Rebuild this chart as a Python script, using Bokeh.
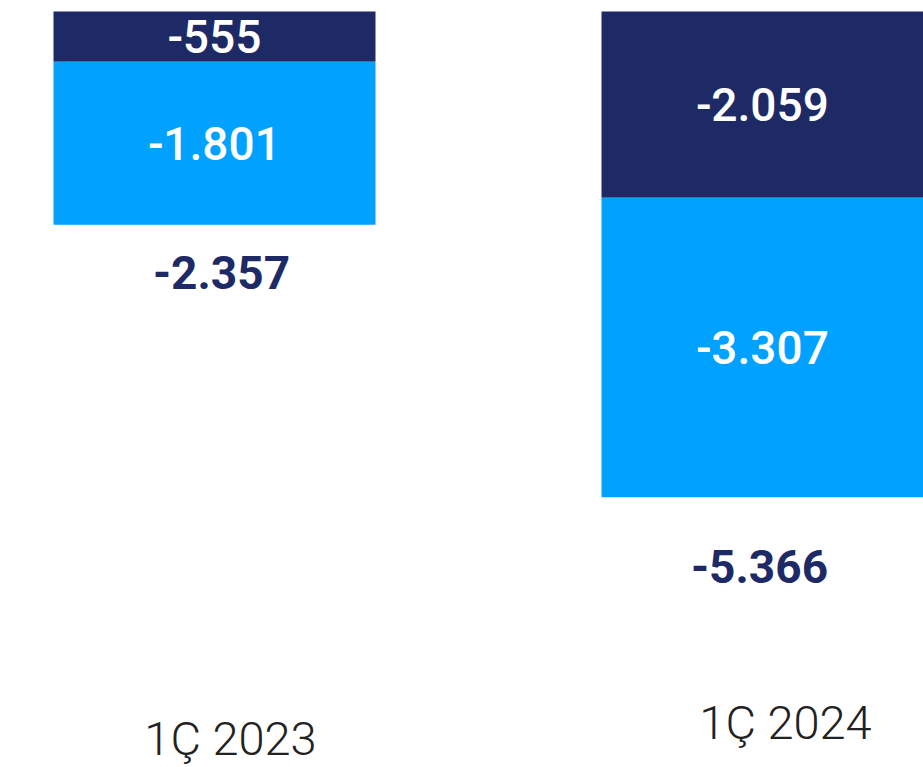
from bokeh.plotting import figure
from bokeh.models import ColumnDataSource, Range1d
from bokeh.core.properties import value
from bokeh.embed import file_html
from bokeh.resources import INLINE

# ---- data ----
categories = ["1Ç 2023", "1Ç 2024"]
dark_values = [-555, -2059]
light_values = [-1801, -3307]
totals = [-2357, -5366]

def fmt(v):
    s = f"{abs(v):,}".replace(",", ".")
    return "-" + s if v < 0 else s

DARK = "#1e2a66"
LIGHT = "#00a1ff"

W, H = 923, 767
scale = 0.09051  # px per unit
zero_px = 11
y_end = zero_px / scale
y_start = y_end - H / scale
x_unit = 548.0
x_start = -214.0 / x_unit
x_end = x_start + W / x_unit

p = figure(width=W, height=H, output_backend="svg", toolbar_location=None,
           x_range=Range1d(x_start, x_end), y_range=Range1d(y_start, y_end),
           min_border=0, min_border_left=0, min_border_right=0,
           min_border_top=0, min_border_bottom=0)
p.axis.visible = False
p.grid.visible = False
p.outline_line_color = None
p.background_fill_color = "white"
p.border_fill_color = "white"

xs = list(range(len(categories)))
light_bottom = [d + l for d, l in zip(dark_values, light_values)]

src = ColumnDataSource(dict(
    x=xs, cat=categories,
    d_top=[0 for _ in dark_values], d_bot=dark_values,
    l_top=dark_values, l_bot=light_bottom,
    d_mid=[v / 2 for v in dark_values],
    l_mid=[d + l / 2 for d, l in zip(dark_values, light_values)],
    d_lbl=[fmt(v) for v in dark_values],
    l_lbl=[fmt(v) for v in light_values],
    tot=totals, t_lbl=[fmt(v) for v in totals],
    t_yoff=[48, 69],
    t_xoff=[7, -3],
))

bw = 322 / x_unit
p.vbar(x="x", top="d_top", bottom="d_bot", width=bw, source=src,
       fill_color=DARK, line_color=None)
p.vbar(x="x", top="l_top", bottom="l_bot", width=bw, source=src,
       fill_color=LIGHT, line_color=None)

p.text(x="x", y="d_mid", text="d_lbl", source=src, text_color="white",
       text_font=value("Roboto Medium"), text_font_size="46px",
       text_align="center", text_baseline="middle")
p.text(x="x", y="l_mid", text="l_lbl", source=src, text_color="white",
       text_font=value("Roboto Medium"), text_font_size="46px",
       text_align="center", text_baseline="middle")
p.text(x="x", y="tot", text="t_lbl", source=src, text_color=DARK,
       text_font=value("Roboto"), text_font_style="bold", text_font_size="46px",
       text_align="center", text_baseline="middle",
       y_offset="t_yoff", x_offset="t_xoff")

cat_y = [-(738 - zero_px) / scale, -(722 - zero_px) / scale]
src2 = ColumnDataSource(dict(x=xs, y=cat_y, cat=categories, xo=[16, 23]))
p.text(x="x", y="y", text="cat", source=src2, text_color="#222222",
       text_font=value("Roboto Light"), text_font_size="47px",
       text_align="center", text_baseline="middle", x_offset="xo")

open("out.html", "w").write(file_html(p, INLINE))
